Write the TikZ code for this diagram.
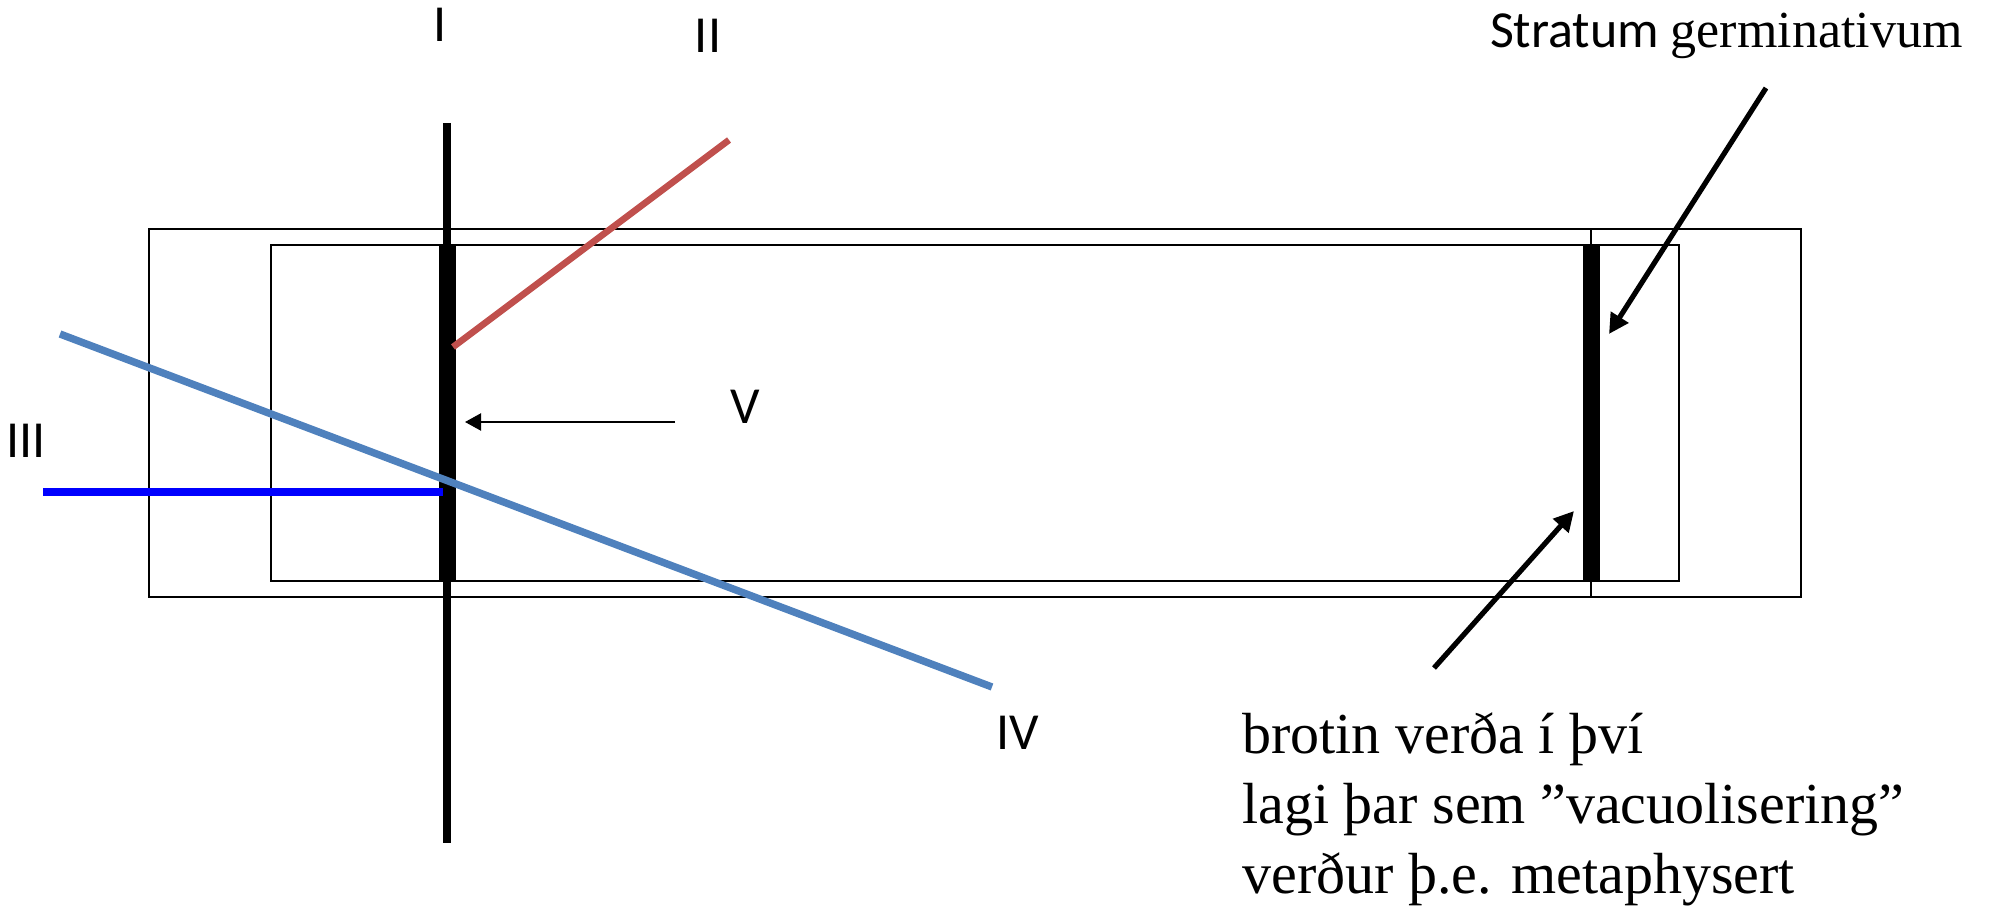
\documentclass[tikz,border=0pt]{standalone}
\usepackage{fontspec}
\setmainfont{Liberation Serif}
\newfontfamily\calfont{Carlito}
\usetikzlibrary{arrows.meta}
\definecolor{redline}{HTML}{C0504D}
\definecolor{steel}{HTML}{4F81BD}
\definecolor{pureblue}{HTML}{0000FF}
\tikzset{
  lab/.style={font=\calfont\fontsize{26}{30}\selectfont, inner sep=0pt},
  bodytext/.style={font=\fontsize{29}{35}\selectfont, inner sep=0pt, anchor=base west},
  frame/.style={draw=black, line width=1.1pt},
  bigarrow/.style={line width=2.6pt, -{Triangle[length=10pt,width=10pt]}},
  smallarrow/.style={line width=1.1pt, -{Triangle[length=8pt,width=8.5pt]}}
}
\begin{document}
\begin{tikzpicture}[x=0.5pt,y=-0.5pt]
\useasboundingbox (0,0) rectangle (1992,908);
% frames
\draw[frame] (149,229) rectangle (1801,597);
\draw[frame] (271,245) rectangle (1679,581);
\draw[frame] (1591,229) -- (1591,597);
% right thick bar
\fill[black] (1583,245) rectangle (1600,581);
% line I
\coordinate (Itop) at (447,123);
\coordinate (Ibot) at (447,843);
\draw[line width=4.3pt] (Itop) -- (Ibot);
\fill[black] (439,245) rectangle (456,581);
% line II
\coordinate (IIa) at (729,140);
\coordinate (IIb) at (453,347);
\draw[redline, line width=3.3pt] (IIa) -- (IIb);
% line IV
\coordinate (IVa) at (60,334);
\coordinate (IVb) at (992,687);
\draw[steel, line width=3.7pt] (IVa) -- (IVb);
% line III
\coordinate (IIIa) at (43,492);
\coordinate (IIIb) at (443,492);
\draw[pureblue, line width=4pt] (IIIa) -- (IIIb);
% labels
\node[lab] (lI) at (440,25) {I};
\node[lab] (lII) at (708,36) {II};
\node[lab] (lIII) at (26,441) {III};
\node[lab] (lIV) at (1018,733) {IV};
\node[lab] (lV) at (745,407) {V};
% V arrow
\coordinate (Vs) at (675,422);
\coordinate (Ve) at (465,422);
\draw[smallarrow] (Vs) -- (Ve);
% stratum
\node[lab, anchor=base east] (strat) at (1963,48) {Stratum {\rmfamily germinativum}};
\coordinate (Sa) at (1766,88);
\coordinate (Sb) at (1609,334);
\draw[bigarrow] (Sa) -- (Sb);
% lower arrow
\coordinate (Ba) at (1434,668);
\coordinate (Bb) at (1574,511);
\draw[bigarrow] (Ba) -- (Bb);
% text
\node[bodytext] (t1) at (1242,753) {brotin verða í því};
\node[bodytext] (t2) at (1242,823) {lagi þar sem ”vacuolisering”};
\node[bodytext] (t3) at (1242,893) {verður þ.e. metaphysert};
\end{tikzpicture}
\end{document}
